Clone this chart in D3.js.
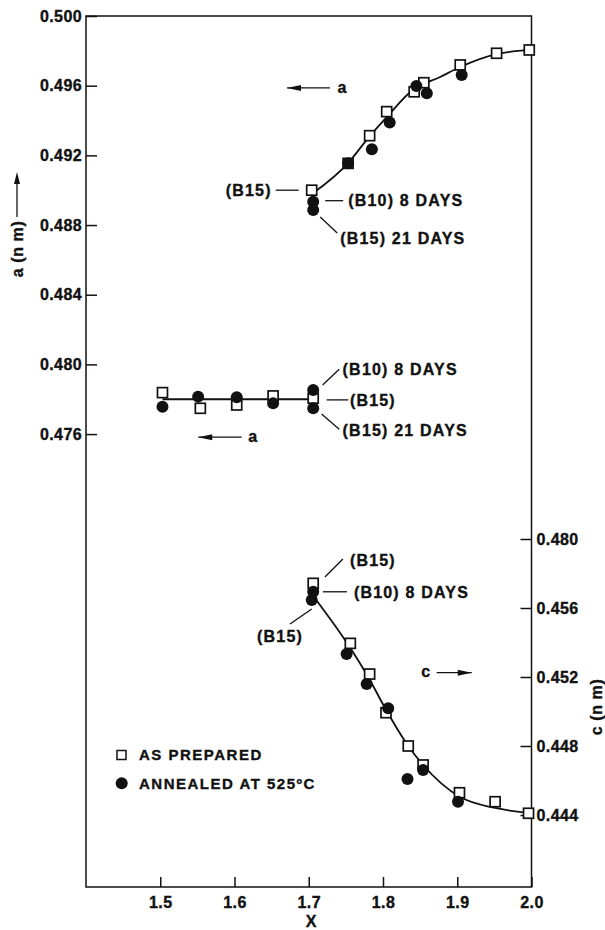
<!DOCTYPE html>
<html>
<head>
<meta charset="utf-8">
<script src="https://cdn.jsdelivr.net/npm/d3@7"></script>
<style>
  body { margin: 0; background: #fff; }
  svg { display: block; font-family: "Liberation Sans", Arial, sans-serif; font-weight: bold; }
  svg text { fill: #111; stroke: #111; stroke-width: 0.35px; }
</style>
</head>
<body>
<div id="chart"></div>
<script>
// tick values and labels
const xTicks = [1.5, 1.6, 1.7, 1.8, 1.9, 2.0];
const aTicks = [0.476, 0.480, 0.484, 0.488, 0.492, 0.496, 0.500];
const cTicks = [0.444, 0.448, 0.452, 0.456, 0.460];
const cTickLabels = ["0.444", "0.448", "0.452", "0.456", "0.480"];

// lattice parameter a, upper branch
const aHighPrepX = [1.704, 1.753, 1.782, 1.805, 1.842, 1.855, 1.904, 1.953, 1.997];
const aHighPrepA = [0.4900, 0.49154, 0.49313, 0.49451, 0.49565, 0.49617, 0.49719, 0.49786, 0.49805];
const aHighAnnX = [1.706, 1.706, 1.753, 1.785, 1.809, 1.845, 1.859, 1.906];
const aHighAnnA = [0.48934, 0.48886, 0.49154, 0.49235, 0.49388, 0.49598, 0.49556, 0.49661];
const aHighFitX = [1.706, 1.753, 1.781, 1.805, 1.840, 1.877, 1.904, 1.954, 1.998];
const aHighFitA = [0.48984, 0.49156, 0.49305, 0.4942, 0.49575, 0.4965, 0.49707, 0.49782, 0.49805];

// lattice parameter a, lower branch
const aLowPrepX = [1.503, 1.554, 1.603, 1.652, 1.706];
const aLowPrepA = [0.47838, 0.47748, 0.47767, 0.47819, 0.47806];
const aLowAnnX = [1.503, 1.551, 1.603, 1.652, 1.706, 1.706];
const aLowAnnA = [0.47757, 0.47815, 0.47811, 0.47777, 0.47853, 0.47748];
const aLowFitX = [1.503, 1.706];
const aLowFitA = [0.478, 0.478];

// lattice parameter c
const cPrepX = [1.706, 1.756, 1.782, 1.804, 1.834, 1.854, 1.903, 1.951, 1.996];
const cPrepC = [0.45743, 0.45395, 0.45217, 0.44993, 0.44800, 0.4469, 0.44529, 0.44477, 0.4441];
const cAnnX = [1.706, 1.704, 1.751, 1.778, 1.807, 1.833, 1.854, 1.901];
const cAnnC = [0.45694, 0.45646, 0.45333, 0.45159, 0.45019, 0.44609, 0.44661, 0.44477];
const cFitX = [1.708, 1.756, 1.780, 1.805, 1.834, 1.854, 1.904, 1.951, 1.995];
const cFitC = [0.45658, 0.45368, 0.452, 0.45003, 0.448, 0.4469, 0.44504, 0.44441, 0.44412];

const legendLabels = ["AS PREPARED", "ANNEALED AT 525ºC"];

const w = 605, h = 930;
const plotL = 86, plotR = 531.5, plotT = 16, plotB = 887;

const x = d3.scaleLinear().domain([1.4, 2.0]).range([plotL, plotR]);
const yA = d3.scaleLinear().domain([0.450, 0.500]).range([plotB, plotT]);
const yC = d3.scaleLinear().domain([0.444, 0.460]).range([815, 539]);

const svg = d3.select("#chart").append("svg")
  .attr("width", w)
  .attr("height", h);

// frame
svg.append("rect")
  .attr("x", plotL).attr("y", plotT)
  .attr("width", plotR - plotL).attr("height", plotB - plotT)
  .attr("fill", "none").attr("stroke", "#111").attr("stroke-width", 1.5);

// axes
const gx = svg.append("g")
  .attr("transform", "translate(0," + plotB + ")")
  .call(d3.axisBottom(x).tickValues(xTicks).tickSize(-10).tickPadding(10).tickFormat(d3.format(".1f")));

const gy = svg.append("g")
  .attr("transform", "translate(" + plotL + ",0)")
  .call(d3.axisLeft(yA).tickValues(aTicks).tickSize(-11).tickPadding(4).tickFormat(d3.format(".3f")));

const gc = svg.append("g")
  .attr("transform", "translate(" + plotR + ",0)")
  .call(d3.axisRight(yC).tickValues(cTicks).tickSize(-11).tickPadding(5).tickFormat((d, i) => cTickLabels[i]));

[gx, gy, gc].forEach(g => {
  g.select(".domain").remove();
  g.selectAll(".tick line").attr("stroke", "#111").attr("stroke-width", 1.5);
  g.selectAll(".tick text")
    .attr("fill", "#111")
    .style("font-size", "16px")
    .style("font-weight", "bold")
    .style("font-family", "'Liberation Sans', Arial, sans-serif")
    .style("letter-spacing", "0.4px");
});

// axis titles
svg.append("text")
  .attr("x", 311).attr("y", 927)
  .attr("text-anchor", "middle")
  .style("font-size", "16px")
  .text("X");

svg.append("text")
  .attr("transform", "translate(23,249) rotate(-90)")
  .attr("text-anchor", "middle")
  .style("font-size", "16px")
  .style("letter-spacing", "0.6px")
  .text("a  (n m)");
svg.append("line")
  .attr("x1", 17).attr("x2", 17).attr("y1", 217).attr("y2", 182)
  .attr("stroke", "#111").attr("stroke-width", 1.3);
svg.append("path")
  .attr("d", "M17,172 L14,184 L20,184 Z").attr("fill", "#111");

svg.append("text")
  .attr("transform", "translate(602,707) rotate(-90)")
  .attr("text-anchor", "middle")
  .style("font-size", "16px")
  .style("letter-spacing", "0.6px")
  .text("c  (n m)");

// fitted curves
const line = d3.line().curve(d3.curveMonotoneX);
function fit(xs, ys, yScale) {
  svg.append("path")
    .attr("d", line(xs.map((v, i) => [x(v), yScale(ys[i])])))
    .attr("fill", "none")
    .attr("stroke", "#111")
    .attr("stroke-width", 1.8);
}
fit(aHighFitX, aHighFitA, yA);
fit(aLowFitX, aLowFitA, yA);
fit(cFitX, cFitC, yC);

// markers
function squares(xs, ys, yScale) {
  svg.append("g").selectAll("rect")
    .data(xs.map((v, i) => [v, ys[i]]))
    .enter()
    .append("rect")
    .attr("x", d => x(d[0]) - 5)
    .attr("y", d => yScale(d[1]) - 5)
    .attr("width", 10)
    .attr("height", 10)
    .attr("fill", "#fff")
    .attr("stroke", "#111")
    .attr("stroke-width", 1.7);
}
function dots(xs, ys, yScale) {
  svg.append("g").selectAll("circle")
    .data(xs.map((v, i) => [v, ys[i]]))
    .enter()
    .append("circle")
    .attr("cx", d => x(d[0]))
    .attr("cy", d => yScale(d[1]))
    .attr("r", 6)
    .attr("fill", "#111");
}
squares(aHighPrepX, aHighPrepA, yA);
squares(aLowPrepX, aLowPrepA, yA);
squares(cPrepX, cPrepC, yC);
dots(aHighAnnX, aHighAnnA, yA);
dots(aLowAnnX, aLowAnnA, yA);
dots(cAnnX, cAnnC, yC);

// annotations with leader lines, placed relative to a marker
function note(px, py, l, label, tx, ty, anchor) {
  svg.append("line")
    .attr("x1", px + l[0]).attr("y1", py + l[1])
    .attr("x2", px + l[2]).attr("y2", py + l[3])
    .attr("stroke", "#111").attr("stroke-width", 1.3);
  svg.append("text")
    .attr("x", px + tx).attr("y", py + ty)
    .attr("dy", "0.36em")
    .attr("text-anchor", anchor || "start")
    .style("font-size", "16px")
    .style("letter-spacing", "1.2px")
    .text(label);
}

let sx = x(aHighPrepX[0]), sy = yA(aHighPrepA[0]);
note(sx, sy, [-13, 0, -36, 0], "(B15)", -40, 0, "end");
let cx = x(aHighAnnX[0]), cy = yA(aHighAnnA[0]);
note(cx, cy, [12, -1, 30, -1], "(B10) 8 DAYS", 35, -1);
cx = x(aHighAnnX[1]); cy = yA(aHighAnnA[1]);
note(cx, cy, [7, 7, 24, 23], "(B15) 21 DAYS", 27, 28);

cx = x(aLowAnnX[4]); cy = yA(aLowAnnA[4]);
note(cx, cy, [9.4, -5, 26, -20.7], "(B10) 8 DAYS", 29.4, -20.5);
sx = x(aLowPrepX[4]); sy = yA(aLowPrepA[4]);
note(sx, sy, [13.4, 1.7, 35, 1.7], "(B15)", 36.7, 1.7);
cx = x(aLowAnnX[5]); cy = yA(aLowAnnA[5]);
note(cx, cy, [8.4, 5.7, 26, 21], "(B15) 21 DAYS", 29.4, 22);

sx = x(cPrepX[0]); sy = yC(cPrepC[0]);
note(sx, sy, [11.7, -6.3, 29.7, -24.3], "(B15)", 36.7, -23.5);
cx = x(cAnnX[0]); cy = yC(cAnnC[0]);
note(cx, cy, [9.7, 0, 33.7, 0], "(B10) 8 DAYS", 40.7, 0);
cx = x(cAnnX[1]); cy = yC(cAnnC[1]);
note(cx, cy, [0, 9, -21.7, 24], "(B15)", -31.7, 36, "middle");

// direction arrows
function arrow(x1, x2, y, label, labelX, headLeft) {
  svg.append("line")
    .attr("x1", x1).attr("x2", x2).attr("y1", y).attr("y2", y)
    .attr("stroke", "#111").attr("stroke-width", 1.3);
  const hx = headLeft ? x1 : x2;
  const s = headLeft ? 1 : -1;
  svg.append("path")
    .attr("d", "M" + hx + "," + y + " L" + (hx + s * 14) + "," + (y - 3) + " L" + (hx + s * 14) + "," + (y + 3) + " Z")
    .attr("fill", "#111");
  svg.append("text")
    .attr("x", labelX).attr("y", y)
    .attr("dy", "0.3em")
    .attr("text-anchor", "middle")
    .style("font-size", "16px")
    .text(label);
}
arrow(x(1.6707), x(1.7286), yA(0.49587), "a", x(1.7286) + 12, true);
arrow(x(1.5512), x(1.6096), yA(0.47582), "a", x(1.6096) + 11, true);
arrow(x(1.8723), x(1.9195), yC(0.45225), "c", x(1.8723) - 11, false);

// legend
svg.append("rect")
  .attr("x", 117).attr("y", 750.5)
  .attr("width", 9).attr("height", 9)
  .attr("fill", "#fff").attr("stroke", "#111").attr("stroke-width", 1.5);
svg.append("circle")
  .attr("cx", 121.7).attr("cy", 783.3).attr("r", 6)
  .attr("fill", "#111");
svg.selectAll(".leg")
  .data(legendLabels)
  .enter()
  .append("text")
  .attr("x", 139)
  .attr("y", (d, i) => 755 + i * 28.3)
  .attr("dy", "0.36em")
  .style("font-size", "15px")
  .style("letter-spacing", "1.5px")
  .text(d => d);
</script>
</body>
</html>
